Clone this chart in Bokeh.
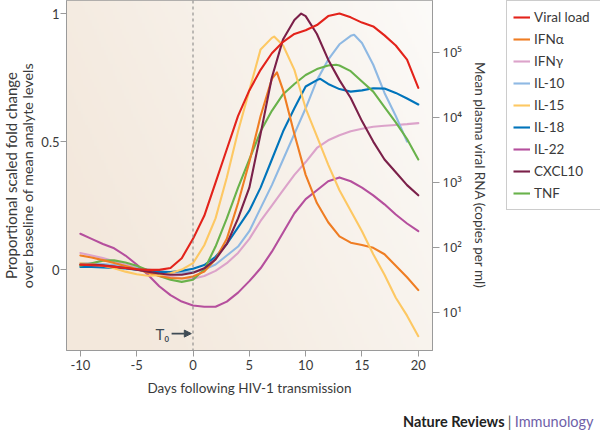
import numpy as np
from bokeh.plotting import figure
from bokeh.layouts import column, row
from bokeh.models import (Range1d, LogScale, LogAxis, FixedTicker, Legend, LegendItem,
                          Span, Label, Arrow, NormalHead)
from bokeh.embed import file_html
from bokeh.resources import INLINE

# ---------------- data ----------------
days = list(range(-10, 21))

# viral load, copies per ml (right, log axis)
viral_load = [54, 53, 52, 50, 48, 46, 45, 45, 48, 68, 135, 305, 990, 3220, 10500,
              25900, 53600, 96600, 145000, 191000, 218000, 262000, 360000, 394000,
              344000, 286000, 250000, 182000, 127000, 76900, 28400]

ifna_days = list(range(-10, 8)) + [7.45] + list(range(8, 21))
ifna = [0.055, 0.047, 0.037, 0.026, 0.014, 0.002, -0.012, -0.025, -0.033, -0.035,
        -0.027, -0.008, 0.04, 0.12, 0.26, 0.42, 0.60, 0.745, 0.77, 0.70, 0.53, 0.37,
        0.26, 0.185, 0.13, 0.105, 0.096, 0.085, 0.06, 0.015, -0.03, -0.08]

ifng_days = days
ifng = [0.065, 0.055, 0.045, 0.033, 0.02, 0.008, -0.004, -0.018, -0.028, -0.034,
        -0.036, -0.025, -0.005, 0.025, 0.065, 0.12, 0.19, 0.25, 0.31, 0.37, 0.42,
        0.475, 0.505, 0.525, 0.54, 0.55, 0.558, 0.562, 0.565, 0.568, 0.572]

il10_days = list(range(-10, 15)) + [14.3] + list(range(15, 20))
il10 = [0.025, 0.025, 0.022, 0.018, 0.012, 0.006, 0.0, -0.006, -0.01, -0.012,
        -0.01, 0.0, 0.02, 0.055, 0.09, 0.15, 0.24, 0.33, 0.43, 0.53, 0.63, 0.74,
        0.82, 0.88, 0.913, 0.917, 0.885, 0.80, 0.69, 0.60, 0.50]

il15_days = list(range(-10, 8)) + [7.2] + list(range(8, 21))
il15 = [0.025, 0.022, 0.015, 0.005, -0.008, -0.018, -0.024, -0.022, -0.014, 0.0,
        0.025, 0.095, 0.20, 0.36, 0.54, 0.70, 0.86, 0.905, 0.91, 0.875, 0.78, 0.63,
        0.52, 0.41, 0.31, 0.23, 0.15, 0.06, -0.02, -0.11, -0.18, -0.26]

il18_days = list(range(-10, 12)) + [11.3] + list(range(12, 21))
il18 = [0.01, 0.01, 0.008, 0.006, 0.004, 0.0, -0.005, -0.009, -0.01, -0.005,
        0.003, 0.018, 0.05, 0.10, 0.165, 0.23, 0.32, 0.43, 0.54, 0.63, 0.715, 0.74,
        0.745, 0.725, 0.705, 0.695, 0.70, 0.708, 0.707, 0.69, 0.668, 0.645]

il22_days = days
il22 = [0.14, 0.12, 0.10, 0.083, 0.055, 0.02, -0.02, -0.065, -0.10, -0.125,
        -0.14, -0.145, -0.145, -0.125, -0.09, -0.045, 0.005, 0.07, 0.145, 0.22,
        0.275, 0.31, 0.345, 0.36, 0.345, 0.32, 0.29, 0.255, 0.215, 0.18, 0.15]

cxcl10_days = list(range(-10, 10)) + [9.6] + list(range(10, 21))
cxcl10 = [0.02, 0.02, 0.017, 0.012, 0.006, 0.0, -0.008, -0.015, -0.02, -0.02,
          -0.012, 0.005, 0.04, 0.10, 0.20, 0.32, 0.53, 0.75, 0.90, 0.975, 1.0,
          0.99, 0.92, 0.82, 0.74, 0.67, 0.58, 0.50, 0.43, 0.38, 0.33, 0.29]

tnf_days = list(range(-10, 13)) + [12.7] + list(range(13, 21))
tnf = [0.015, 0.025, 0.035, 0.036, 0.028, 0.015, -0.002, -0.025, -0.04, -0.048,
       -0.04, 0.0, 0.09, 0.20, 0.32, 0.43, 0.54, 0.62, 0.685, 0.725, 0.76, 0.783,
       0.797, 0.80, 0.797, 0.775, 0.735, 0.695, 0.635, 0.575, 0.51, 0.43]

series_names = ["Viral load", "IFN\u03b1", "IFN\u03b3", "IL-10", "IL-15", "IL-18",
                "IL-22", "CXCL10", "TNF"]
series_colors = ["#e3231b", "#ef7d23", "#dca3ca", "#8fb9e3", "#fdc863", "#0074bb",
                 "#b54f9d", "#7b2049", "#69b24b"]

x_ticks = [-10, -5, 0, 5, 10, 15, 20]
y_ticks = [0, 0.5, 1]
y_tick_labels = ["0", "0.5", "1"]
vl_ticks = [10, 100, 1000, 10000, 100000]
vl_tick_labels = ["10\u00b9", "10\u00b2", "10\u00b3", "10\u2074", "10\u2075"]
y_title_lines = ["Proportional scaled fold change", "over baseline of mean analyte levels"]

# ---------------- layout ----------------
YL_W = 38                       # strip holding the left axis title
MAIN_W, MAIN_H = 506 - YL_W, 400
LEG_W = 600 - 506
CRED_H = 40
FRAME_H = 350
B_LEFT, B_RIGHT, B_TOP, B_BOTTOM = 63 - YL_W, 74, 0, MAIN_H - FRAME_H
X0, X1 = -11.23, 21.26
Y0, Y1 = -0.316, 1.051
LOG0, LOG1 = 0.413, 5.796
FONT = "Lato"
TXT = "#3a3a3a"
AX = "#9a9a9a"


def blank(width, height, xr, yr):
    f = figure(width=width, height=height, x_range=xr, y_range=yr,
               output_backend="svg", toolbar_location=None, min_border=0,
               x_axis_location=None, y_axis_location=None)
    f.grid.visible = False
    f.outline_line_color = None
    f.background_fill_color = "white"
    f.border_fill_color = "white"
    return f


p = figure(width=MAIN_W, height=MAIN_H, x_range=Range1d(X0, X1),
           y_range=Range1d(Y0, Y1), output_backend="svg", toolbar_location=None,
           min_border_left=B_LEFT, min_border_right=B_RIGHT,
           min_border_top=B_TOP, min_border_bottom=B_BOTTOM)
p.extra_y_ranges = {"vl": Range1d(10 ** LOG0, 10 ** LOG1)}
p.extra_y_scales = {"vl": LogScale()}
p.grid.visible = False
p.outline_line_color = AX
p.background_fill_color = "#f6efe6"
p.border_fill_color = "white"

# background gradient (beige at left / bottom, almost white at top right)
gh, gw = 120, 160
vv, uu = np.mgrid[0:gh, 0:gw]
u = uu / (gw - 1)
v = vv / (gh - 1)
t = np.clip(0.8 * (1 - u) + 0.35 * (1 - v), 0, 1) ** 0.9
light = np.array([252, 251, 249])
beige = np.array([243, 232, 220])
rgb = light[None, None, :] * (1 - t[..., None]) + beige[None, None, :] * t[..., None]
img = np.empty((gh, gw), dtype=np.uint32)
view = img.view(dtype=np.uint8).reshape((gh, gw, 4))
view[..., 0:3] = rgb.astype(np.uint8)
view[..., 3] = 255
p.image_rgba(image=[img], x=X0, y=Y0, dw=X1 - X0, dh=Y1 - Y0)

# axes styling
xa = p.xaxis[0]
xa.ticker = FixedTicker(ticks=x_ticks, minor_ticks=[])
xa.major_label_overrides = {t_: str(t_) for t_ in x_ticks}
xa.axis_label = "Days following HIV-1 transmission"
ya = p.yaxis[0]
ya.ticker = FixedTicker(ticks=y_ticks, minor_ticks=[])
ya.major_label_overrides = dict(zip(y_ticks, y_tick_labels))

ra = LogAxis(y_range_name="vl", ticker=FixedTicker(ticks=vl_ticks, minor_ticks=[]),
             axis_label="Mean plasma viral RNA (copies per ml)")
ra.major_label_overrides = dict(zip(vl_ticks, vl_tick_labels))
p.add_layout(ra, "right")

for ax in (xa, ya, ra):
    ax.axis_line_color = AX
    ax.major_tick_line_color = AX
    ax.minor_tick_line_color = None
    ax.major_tick_in = 0
    ax.major_tick_out = 6
    ax.major_label_text_font = FONT
    ax.major_label_text_font_size = "13px"
    ax.major_label_text_color = TXT
    ax.axis_label_text_font = FONT
    ax.axis_label_text_font_size = "13px"
    ax.axis_label_text_font_style = "normal"
    ax.axis_label_text_color = TXT
ya.major_label_standoff = 1
xa.major_label_standoff = 3
xa.axis_label_standoff = 7
xa.axis_label_text_font_size = "13.5px"
ra.major_tick_out = 7
ra.major_label_text_font = "Noto Sans"
ra.major_label_standoff = 3
ra.axis_label_standoff = 7
ra.axis_label_text_font_size = "13.5px"

# T0 marker
p.add_layout(Span(location=0, dimension="height", line_color="#808080",
                  line_dash="3 3", line_width=1))

# lines
all_days = [days, ifna_days, ifng_days, il10_days, il15_days, il18_days,
            il22_days, cxcl10_days, tnf_days]
all_vals = [viral_load, ifna, ifng, il10, il15, il18, il22, cxcl10, tnf]
order = [2, 3, 6, 5, 8, 1, 4, 7, 0]  # drawing order (viral load on top)
for i in order:
    kw = dict(y_range_name="vl") if i == 0 else {}
    p.line(all_days[i], all_vals[i], line_color=series_colors[i],
           line_width=2.1, line_join="round", line_cap="round", **kw)

# T0 annotation
p.add_layout(Label(x=-2.1, y=-0.25, text="T\u2080", text_align="right",
                   text_baseline="middle", text_font=FONT, text_font_size="15px",
                   text_color="#3f4b55"))
p.add_layout(Arrow(x_start=-1.9, y_start=-0.25, x_end=-0.15, y_end=-0.25,
                   line_color="#3f4b55", line_width=1.6,
                   end=NormalHead(size=7, fill_color="#3f4b55", line_color="#3f4b55")))

# ---------------- left axis title (own strip; its frame lines up with the plot's) ----
yl = blank(YL_W, MAIN_H, Range1d(0, YL_W), Range1d(0, FRAME_H))
yl.min_border_bottom = B_BOTTOM
for xpos, line, fs in zip([10, 27], y_title_lines, ["15px", "14.3px"]):
    yl.add_layout(Label(x=xpos, y=FRAME_H / 2, text=line, angle=90, angle_units="deg",
                        text_align="center", text_baseline="middle", text_font=FONT,
                        text_font_size=fs, text_color=TXT))

# ---------------- legend (own small figure to the right) ----------------
# the series are drawn again here, far outside this figure's view, only so
# that the legend can show their line styles
lf = blank(LEG_W, MAIN_H, Range1d(1000, 1001), Range1d(1000, 1001))
leg_renderers = [lf.line(all_days[i], all_vals[i], line_color=series_colors[i],
                         line_width=2.1) for i in range(9)]
items = [LegendItem(label=n, renderers=[r]) for n, r in zip(series_names, leg_renderers)]
legend = Legend(items=items, location="top_left", margin=0,
                padding=6, spacing=2, glyph_width=17, glyph_height=20,
                label_height=20, label_width=72, label_standoff=4,
                label_text_font=FONT, label_text_font_size="13.5px",
                label_text_color=TXT, border_line_color="#9a9a9a",
                border_line_width=1, background_fill_color="white",
                background_fill_alpha=1.0)
lf.add_layout(legend)

# ---------------- journal credit strip ----------------
cf = blank(600, CRED_H, Range1d(0, 600), Range1d(0, CRED_H))
cf.add_layout(Label(x=504, y=19, text="Nature Reviews", text_font=FONT,
                    text_font_style="bold", text_font_size="14.5px", text_color="#222222",
                    text_baseline="middle", text_align="right"))
cf.add_layout(Label(x=509, y=19, text="|", text_font=FONT,
                    text_font_size="14.5px", text_color="#555555",
                    text_baseline="middle", text_align="center"))
cf.add_layout(Label(x=593, y=19, text="Immunology", text_font=FONT,
                    text_font_size="14.5px", text_color="#6f5fa8",
                    text_baseline="middle", text_align="right"))

layout = column(row(yl, p, lf, spacing=0), cf, spacing=0)
open("out.html", "w").write(file_html(layout, INLINE))
